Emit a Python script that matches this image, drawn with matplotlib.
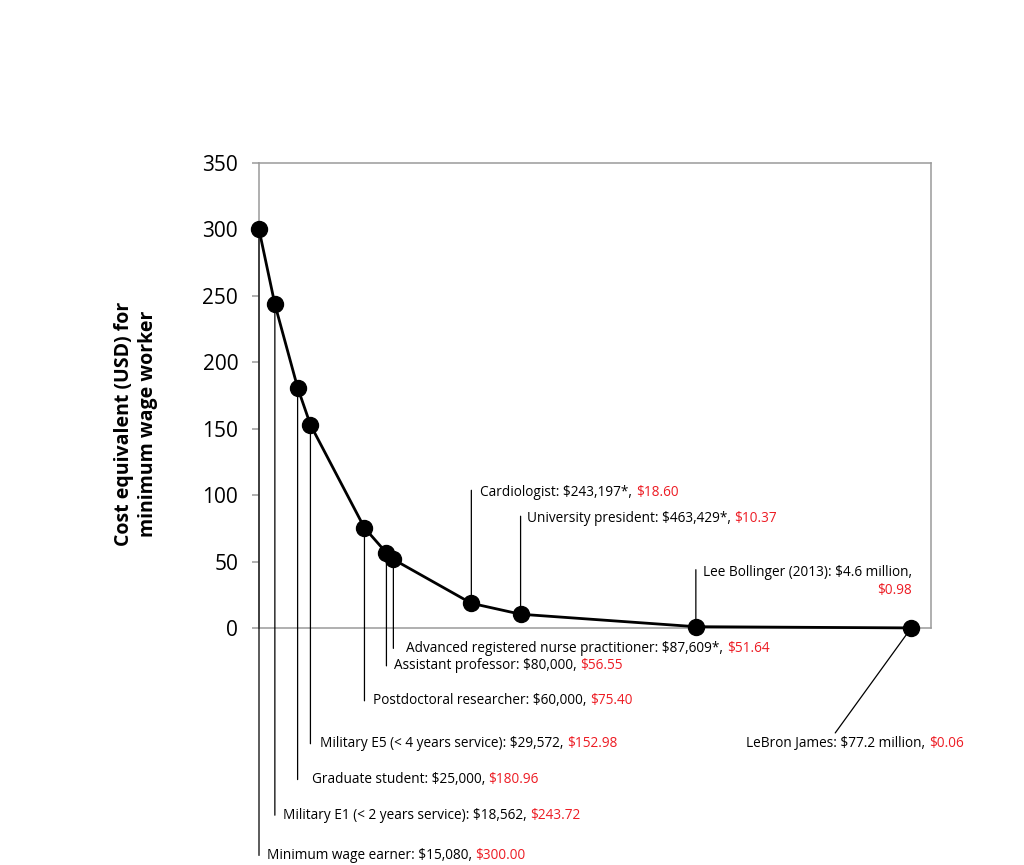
"""
Cost equivalent for a minimum wage worker, by salary
"""

import numpy as np
import matplotlib.pyplot as plt

plt.rcParams['font.family'] = ['Open Sans', 'DejaVu Sans']

# Datos
names = ['Minimum wage earner', 'Military E1 (< 2 years service)', 'Graduate student',
         'Military E5 (< 4 years service)', 'Postdoctoral researcher', 'Assistant professor',
         'Advanced registered nurse practitioner', 'Cardiologist', 'University president',
         'Lee Bollinger (2013)', 'LeBron James']
salaries = [15080, 18562, 25000, 29572, 60000, 80000, 87609, 243197, 463429, 4.6e6, 77.2e6]
salary_labels = ['$15,080', '$18,562', '$25,000', '$29,572', '$60,000', '$80,000',
                 '$87,609*', '$243,197*', '$463,429*', '$4.6 million', '$77.2 million']
cost_equiv = [300.00, 243.72, 180.96, 152.98, 75.40, 56.55, 51.64, 18.60, 10.37, 0.98, 0.06]

# Posición de etiquetas (pixeles relativos al punto): fin de línea y texto
line_end = [(0, -626), (0, -511), (0, -392), (0, -319), (0, -173), (0, -113), (0, -89),
            (0, 113), (0, 98), (0, 57), (-76, -105)]
text_pos = [(8, -626), (8, -511), (14, -392), (10, -319), (9, -173), (8, -113), (13, -89),
            (9, 111), (6, 96), (7, 54), (-165, -116)]

RED = '#ED1C24'
GRAY = '#9a9a9a'
FS = 9.8

fig = plt.figure(figsize=(10.24, 8.65), dpi=100)
ax = fig.add_axes([259/1024, 1 - 628/865, 672/1024, 465/865])

ax.plot(salaries, cost_equiv, color='black', linewidth=2.0, marker='o',
        markersize=11.5, clip_on=False, zorder=5)
ax.set_xscale('log')
ax.set_xlim(15080, 1.0e8)
ax.set_ylim(0, 350)
ax.set_yticks(np.arange(0, 351, 50))
ax.set_xticks([])
ax.xaxis.set_minor_locator(plt.NullLocator())

for s in ax.spines.values():
    s.set_color(GRAY)
    s.set_linewidth(1.1)
ax.tick_params(axis='y', direction='out', length=5, width=1.1, color=GRAY,
               labelsize=15, pad=10)

for i, nombre in enumerate(names):
    x, y = salaries[i], cost_equiv[i]
    ax.annotate('', xy=(x, y), xytext=line_end[i], textcoords='offset pixels',
                arrowprops=dict(arrowstyle='-', color='black', lw=0.9,
                                shrinkA=0, shrinkB=0), annotation_clip=False)
    if nombre.startswith('Lee'):
        t = ax.annotate(f'{nombre}: {salary_labels[i]},', xy=(x, y), xytext=text_pos[i],
                        textcoords='offset pixels', va='center', ha='left',
                        fontsize=FS, annotation_clip=False)
        ax.annotate(f'${y:.2f}', xy=(1, 0), xycoords=t, xytext=(0, -3),
                    textcoords='offset pixels', va='top', ha='right',
                    fontsize=FS, color=RED, annotation_clip=False)
    else:
        t = ax.annotate(f'{nombre}: {salary_labels[i]}, ', xy=(x, y), xytext=text_pos[i],
                        textcoords='offset pixels', va='center', ha='left',
                        fontsize=FS, annotation_clip=False)
        ax.annotate(f'${y:.2f}', xy=(1, 0), xycoords=t, va='bottom', ha='left',
                    fontsize=FS, color=RED, annotation_clip=False)

fig.text(136/1024, 1 - 424/865, 'Cost equivalent (USD) for\nminimum wage worker',
         rotation=90, ha='center', va='center', fontsize=14, fontweight='bold',
         linespacing=1.2)

fig.savefig('out.png', dpi=100)
